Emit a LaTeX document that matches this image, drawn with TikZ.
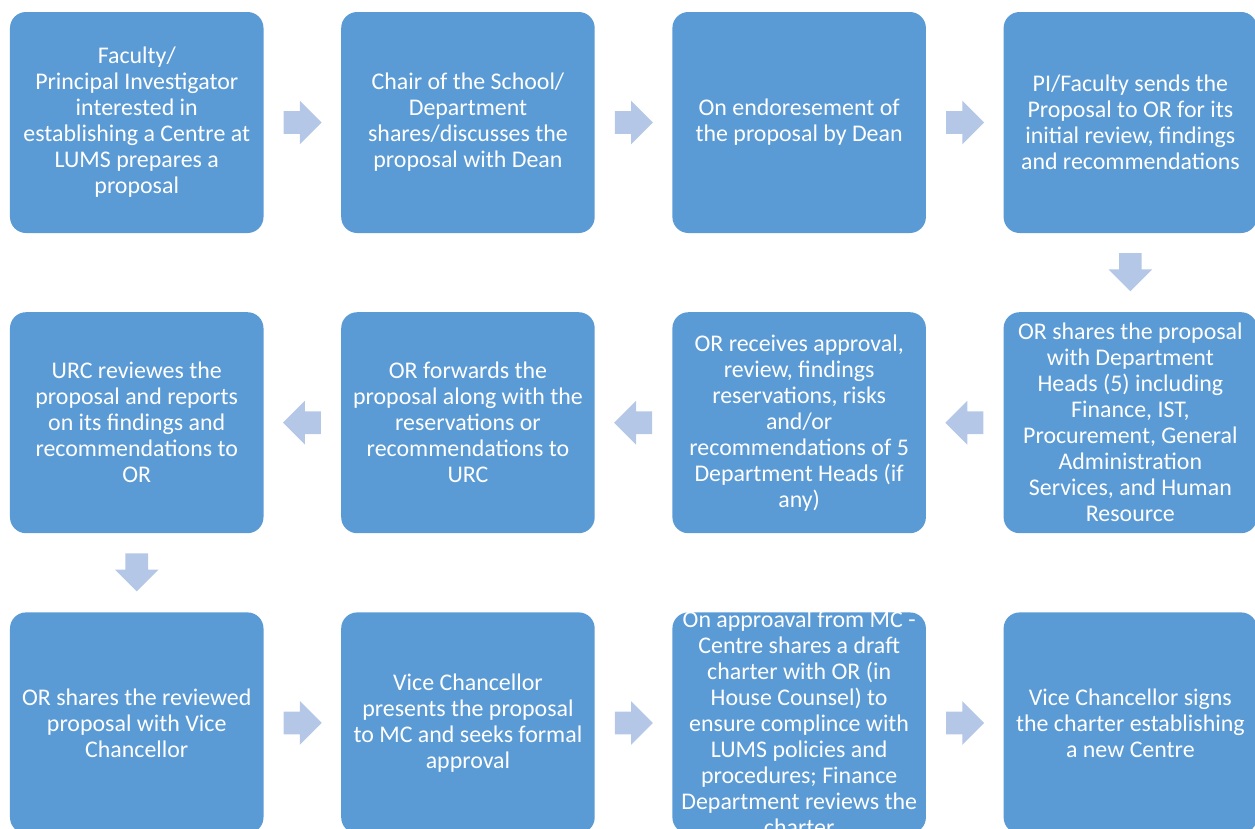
\documentclass[tikz,border=0pt]{standalone}
\usepackage{fontspec}
\setmainfont{Carlito}
\usetikzlibrary{shapes.arrows, positioning, calc}
\definecolor{lums_blue}{HTML}{5B9BD5}
\definecolor{lums_lightblue}{HTML}{B4C7E7}
\tikzset{
  stepbox/.style={rectangle,rounded corners=0.32cm,fill=lums_blue,text=white,minimum width=5.07cm,minimum height=4.42cm,inner sep=2pt,align=center,font=\fontsize{13.6}{14.8}\selectfont},
  steptext/.style={text=white,inner sep=0pt,align=center,font=\fontsize{13.6}{14.8}\selectfont},
  flow/.style={single arrow,fill=lums_lightblue,draw=none,minimum height=0.76cm,minimum width=0.86cm,inner sep=0.22cm,single arrow head extend=0.21cm},
  flowr/.style={flow},
  flowl/.style={flow,shape border rotate=180},
  flowd/.style={flow,shape border rotate=270},
}

\begin{document}
\begin{tikzpicture}
	    \useasboundingbox (0,0) rectangle (25.1,-16.56);
	    % first row
	    \node[stepbox] (faculty) at (2.735,-2.45) {Faculty/\\Principal Investigator\\interested in\\establishing a Centre at\\LUMS prepares a\\proposal};
	    \node[stepbox,right=1.54cm of faculty] (chair) {Chair of the School/\\Department\\shares/discusses the\\proposal with Dean};
	    \node[stepbox,right=1.54cm of chair] (dean) {On endoresement of\\the proposal by Dean};
	    \node[stepbox,right=1.54cm of dean] (sends) {PI/Faculty sends the\\Proposal to OR for its\\initial review, findings\\and recommendations};
	    % second row
	    \node[stepbox,below=1.57cm of sends] (heads) {OR shares the proposal\\with Department\\Heads (5) including\\Finance, IST,\\Procurement, General\\Administration\\Services, and Human\\Resource};
	    \node[stepbox,left=1.54cm of heads] (receives) {OR receives approval,\\review, findings\\reservations, risks\\and/or\\recommendations of 5\\Department Heads (if\\any)};
	    \node[stepbox,left=1.54cm of receives] (forwards) {OR forwards the\\proposal along with the\\reservations or\\recommendations to\\URC};
	    \node[stepbox,left=1.54cm of forwards] (urc) {URC reviewes the\\proposal and reports\\on its findings and\\recommendations to\\OR};
	    % third row
	    \node[stepbox,below=1.57cm of urc] (shares) {OR shares the reviewed\\proposal with Vice\\Chancellor};
	    \node[stepbox,right=1.54cm of shares] (presents) {Vice Chancellor\\presents the proposal\\to MC and seeks formal\\approval};
	    \node[stepbox,right=1.54cm of presents] (approval) {};
	    \node[steptext] (approvaltext) at (approval) {On approaval from MC -\\Centre shares a draft\\charter with OR (in\\House Counsel) to\\ensure complince with\\LUMS policies and\\procedures; Finance\\Department reviews the\\charter};
	    \node[stepbox,right=1.54cm of approval] (signs) {Vice Chancellor signs\\the charter establishing\\a new Centre};
	    % arrows
	    \node[flowr,right=0.39cm of faculty] (a1) {};
	    \node[flowr,right=0.39cm of chair] (a2) {};
	    \node[flowr,right=0.39cm of dean] (a3) {};
	    \node[flowd,below=0.39cm of sends] (a4) {};
	    \node[flowl,left=0.39cm of heads] (a5) {};
	    \node[flowl,left=0.39cm of receives] (a6) {};
	    \node[flowl,left=0.39cm of forwards] (a7) {};
	    \node[flowd,below=0.39cm of urc] (a8) {};
	    \node[flowr,right=0.39cm of shares] (a9) {};
	    \node[flowr,right=0.39cm of presents] (a10) {};
	    \node[flowr,right=0.39cm of approval] (a11) {};
	\end{tikzpicture}
\end{document}
